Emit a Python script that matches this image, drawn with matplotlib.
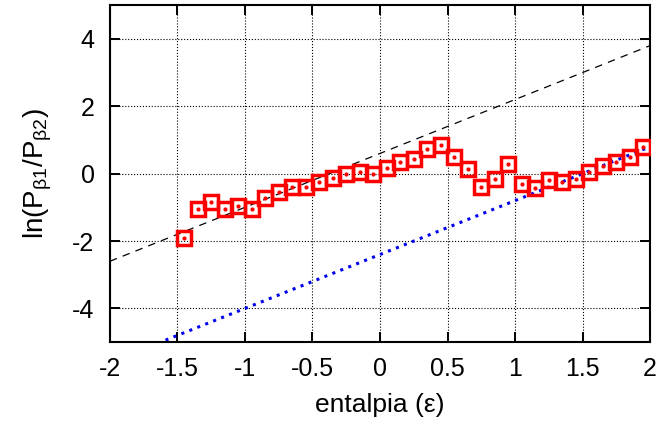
import numpy as np
import matplotlib
matplotlib.use('Agg')
import matplotlib.pyplot as plt

plt.rcParams['font.family'] = ['Liberation Sans', 'DejaVu Sans']
plt.rcParams['mathtext.fontset'] = 'custom'
plt.rcParams['mathtext.rm'] = 'Liberation Sans'
plt.rcParams['mathtext.it'] = 'Liberation Sans:italic'
plt.rcParams['axes.unicode_minus'] = False

# measured points
enthalpy = [-1.45, -1.35, -1.25, -1.15, -1.05, -0.95, -0.85, -0.75, -0.65, -0.55,
            -0.45, -0.35, -0.25, -0.15, -0.05, 0.05, 0.15, 0.25, 0.35, 0.45,
            0.55, 0.65, 0.75, 0.85, 0.95, 1.05, 1.15, 1.25, 1.35, 1.45,
            1.55, 1.65, 1.75, 1.85, 1.95]
log_ratio = [-1.90, -1.05, -0.84, -1.04, -0.95, -1.04, -0.73, -0.53, -0.41, -0.39,
             -0.25, -0.12, 0.00, 0.04, 0.00, 0.17, 0.36, 0.44, 0.74, 0.86,
             0.49, 0.14, -0.40, -0.16, 0.29, -0.30, -0.42, -0.20, -0.26, -0.15,
             0.06, 0.22, 0.35, 0.49, 0.78]

# straight lines y = slope * x + offset
slope = 1.6
upper_offset = 0.6
lower_offset = -2.4

xticks = [-2, -1.5, -1, -0.5, 0, 0.5, 1, 1.5, 2]
xtick_labels = ['-2', '-1.5', '-1', '-0.5', '0', '0.5', '1', '1.5', '2']
yticks = [-4, -2, 0, 2, 4]
ytick_labels = ['-4', '-2', '0', '2', '4']

fig = plt.figure(figsize=(6.62, 4.32), dpi=100)
ax = fig.add_axes([0.166, 0.208, 0.816, 0.780])

xline = np.array([-2.0, 2.0])
ax.plot(xline, slope * xline + upper_offset, color='black', lw=0.9,
        linestyle=(0, (6, 5)), zorder=2)
ax.plot(xline, slope * xline + lower_offset, color='#0000ee', lw=2.2,
        linestyle=(0, (1, 1.8)), zorder=2)

ax.plot(enthalpy, log_ratio, linestyle='none', marker='s', markersize=9.5,
        mfc='none', mec='red', mew=2.5, zorder=3)
ax.plot(enthalpy, log_ratio, linestyle='none', marker='o', markersize=2,
        mfc='red', mec='red', zorder=4)

ax.set_xlim(-2, 2)
ax.set_ylim(-5, 5)
ax.set_xticks(xticks)
ax.set_xticklabels(xtick_labels)
ax.set_yticks(yticks)
ax.set_yticklabels(ytick_labels)
ax.grid(True, color='black', linestyle=':', linewidth=0.8)
ax.tick_params(direction='in', length=7, width=1.4, labelsize=18,
               top=True, right=True)
ax.tick_params(axis='x', pad=11)
ax.tick_params(axis='y', pad=11)
for sp in ax.spines.values():
    sp.set_linewidth(1.5)

ax.set_xlabel('entalpia (ε)', fontsize=19, labelpad=8)
ax.set_ylabel(r'ln(P$_{\mathrm{β1}}$/P$_{\mathrm{β2}}$)', fontsize=20, labelpad=13)

fig.savefig('out.png', dpi=100)
